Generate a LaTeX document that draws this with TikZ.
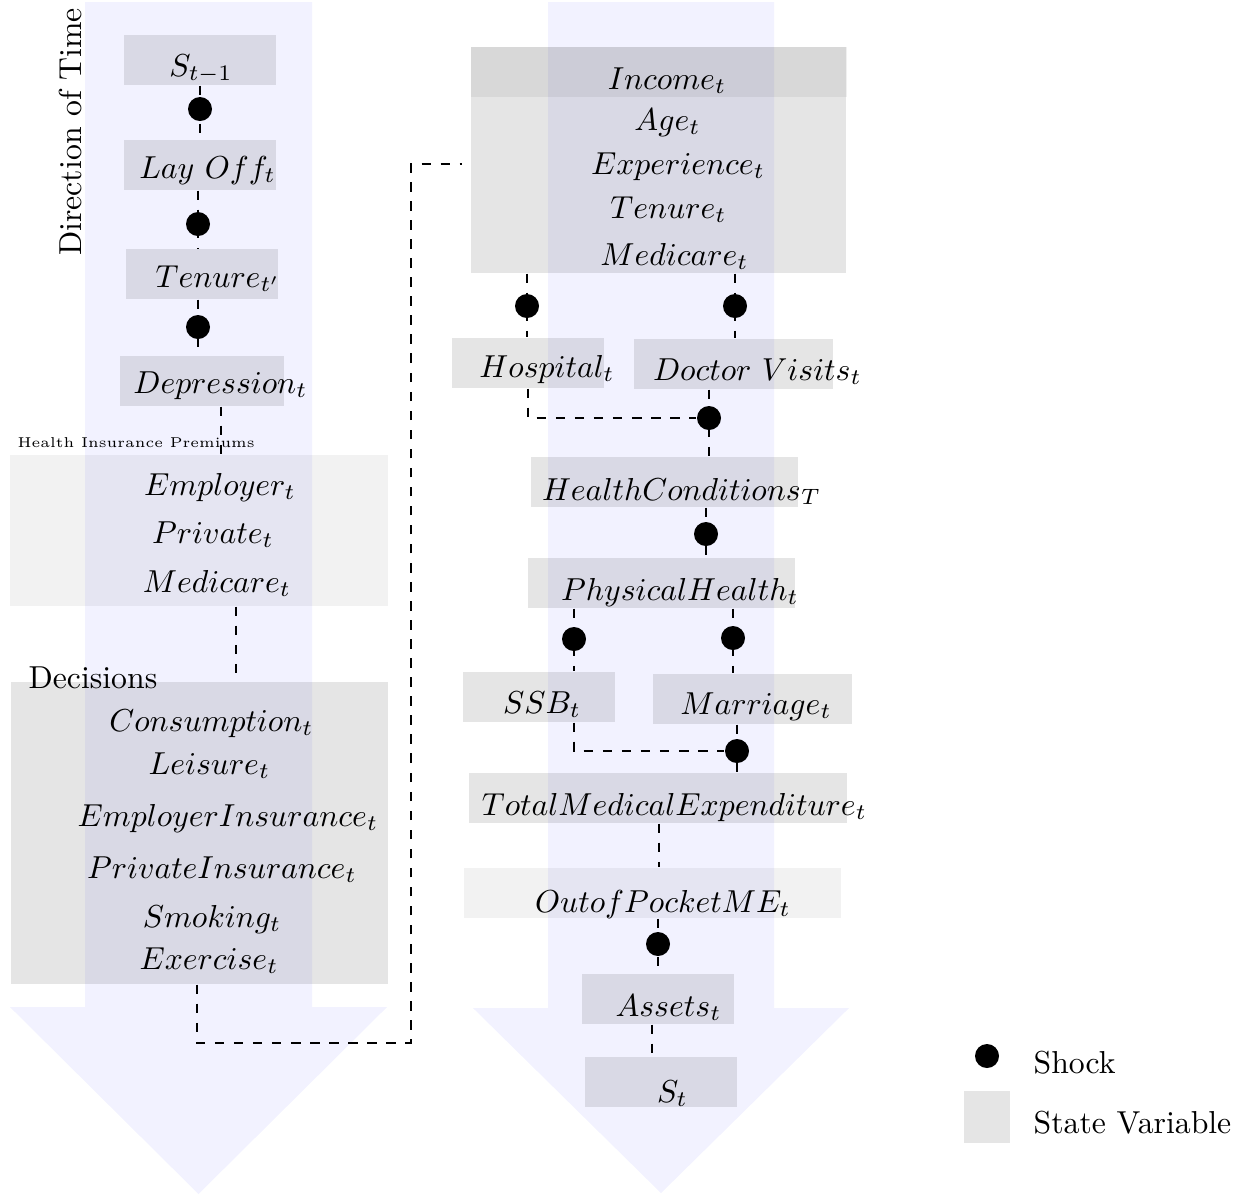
\documentclass[tikz,border=0pt]{standalone}

\def\pxu{0.315pt}

\tikzset{
  statebox/.style={fill=black,fill opacity=0.1,inner sep=0,minimum height=50*\pxu,minimum width=#1*\pxu},
  statebox/.default=152,
  lightbox/.style={statebox=#1,fill opacity=0.05},
  shock/.style={circle,fill=black,inner sep=0,minimum size=24*\pxu},
  lbl/.style={anchor=base,inner sep=0},
  link/.style={dashed},
  timearrow/.style={fill=blue!5},
}

\begin{document}
\begin{tikzpicture}[x=\pxu,y=-\pxu]
\useasboundingbox (0,0) rectangle (1248,1196);
% time arrows
\fill[timearrow] (85,2) -- (312,2) -- (312,1007) -- (387,1007) -- (198.5,1194) -- (10,1007) -- (85,1007) -- cycle;
\fill[timearrow] (548,2) -- (774,2) -- (774,1008) -- (849,1008) -- (661,1193) -- (473,1008) -- (548,1008) -- cycle;
\node[rotate=90] (dir) at (70,132) {Direction of Time};

% left column
\node[statebox] (s0) at (200,60) {};
\node[lbl] (s0t) at (201,76) {$S_{t-1}$};
\node[statebox] (lay) at (200,165) {};
\node[lbl] (layt) at (207.5,178) {$Lay\ Off_t$};
\node[statebox] (ten) at (202,274) {};
\node[lbl] (tent) at (218,287) {$Tenure_{t'}$};
\node[statebox=164] (dep) at (202,381) {};
\node[lbl] (dept) at (220.5,393) {$Depression_t$};

\node[lbl,anchor=base west,font=\fontsize{4.5}{5}\selectfont] (hiplbl) at (17,447) {Health Insurance Premiums};
\node[lightbox=378,minimum height=151*\pxu] (hip) at (199,530.5) {};
\foreach \x/\y/\t [count=\i] in {220/495/Employer,213/543/Private,217/592/Medicare}
  \node[lbl] (hip\i) at (\x,\y) {$\t_t$};

\node[lbl,anchor=base west] (declbl) at (28,688) {Decisions};
\node[statebox=377,minimum height=302*\pxu] (dec) at (199.5,833) {};
\foreach \x/\y/\t [count=\i] in {211.5/731/Consumption,209.5/774/Leisure,228/826/EmployerInsurance,
    222/878/PrivateInsurance,212/927/Smoking,209/969/Exercise}
  \node[lbl] (dec\i) at (\x,\y) {$\t_t$};

% right column
\node[statebox=375,minimum height=226*\pxu] (st) at (658.5,160) {};
\node[statebox=376,fill opacity=0.06] (inc) at (659,72) {};
\foreach \x/\y/\t [count=\i] in {667/89/Income,667.5/130/Age,678/174/Experience,668.5/218/Tenure,674.5/265/Medicare}
  \node[lbl] (st\i) at (\x,\y) {$\t_t$};

\node[statebox] (hos) at (528,363) {};
\node[lbl] (host) at (547,377) {$Hospital_t$};
\node[statebox=199] (doc) at (733.5,364) {};
\node[lbl] (doct) at (757.5,380) {$Doctor\ Visits_t$};
\node[statebox=267] (hc) at (664.5,482) {};
\node[lbl] (hct) at (681.5,500) {$HealthConditions_T$};
\node[statebox=267] (ph) at (661.5,583) {};
\node[lbl] (pht) at (680,600) {$PhysicalHealth_t$};
\node[statebox] (ssb) at (539,697) {};
\node[lbl] (ssbt) at (542,713) {$SSB_t$};
\node[statebox=199] (mar) at (752.5,699) {};
\node[lbl] (mart) at (756,714) {$Marriage_t$};
\node[statebox=378] (tme) at (658,798) {};
\node[lbl] (tmet) at (674.5,815) {$TotalMedicalExpenditure_t$};
\node[lightbox=377] (oop) at (652.5,893) {};
\node[lbl] (oopt) at (663,912) {$OutofPocketME_t$};
\node[statebox] (as) at (658,999) {};
\node[lbl] (ast) at (668.5,1016) {$Assets_t$};
\node[statebox] (sT) at (661,1082) {};
\node[lbl] (sTt) at (672.5,1102) {$S_t$};

% shocks
\node[shock] (k1) at (200,109) {};
\node[shock] (k2) at (198,224) {};
\node[shock] (k3) at (198,327) {};
\node[shock] (k4) at (527,306) {};
\node[shock] (k5) at (735,306) {};
\node[shock] (k6) at (709,418) {};
\node[shock] (k7) at (706,534) {};
\node[shock] (k8) at (574,639) {};
\node[shock] (k9) at (733,638) {};
\node[shock] (k10) at (737,751) {};
\node[shock] (k11) at (658,944) {};

% links
\coordinate (j1) at (221,430);
\coordinate (j2) at (236,640);
\coordinate (j3) at (197,1043);
\coordinate (j4) at (411,164);
\coordinate (j5) at (462,164);
\coordinate (j6) at (659,845);
\coordinate (j7) at (652,1040);
\draw[link] (k1 |- s0.south) -- (k1 |- lay.north);
\draw[link] (k2 |- lay.south) -- (k2 |- ten.north);
\draw[link] (k3 |- ten.south) -- (k3 |- dep.north);
\draw[link] (j1 |- dep.south) -- (j1 |- hip.north);
\draw[link] (j2 |- hip.south) -- (j2 |- dec.north);
\draw[link] (j3 |- dec.south) -- (j3) -| (j4) -- (j5);
\draw[link] (k4 |- st.south) -- (k4 |- hos.north);
\draw[link] (k5 |- st.south) -- (k5 |- doc.north);
\draw[link] (hos.south) |- (k6);
\draw[link] (k6 |- doc.south) -- (k6 |- hc.north);
\draw[link] (k7 |- hc.south) -- (k7 |- ph.north);
\draw[link] (k8 |- ph.south) -- (k8 |- ssb.north);
\draw[link] (k9 |- ph.south) -- (k9 |- mar.north);
\draw[link] (k8 |- ssb.south) |- (k10);
\draw[link] (k10 |- mar.south) -- (k10 |- tme.north);
\draw[link] (j6 |- tme.south) -- (j6 |- oop.north);
\draw[link] (k11 |- oop.south) -- (k11 |- as.north);
\draw[link] (j7 |- as.south) -- (j7 |- sT.north);

% legend
\node[shock] (lgk) at (987,1056) {};
\node[lbl,anchor=base west] (lgkt) at (1033,1073) {Shock};
\node[statebox=46,minimum height=52*\pxu] (lgs) at (987,1117) {};
\node[lbl,anchor=base west] (lgst) at (1033,1133) {State Variable};
\end{tikzpicture}
\end{document}
